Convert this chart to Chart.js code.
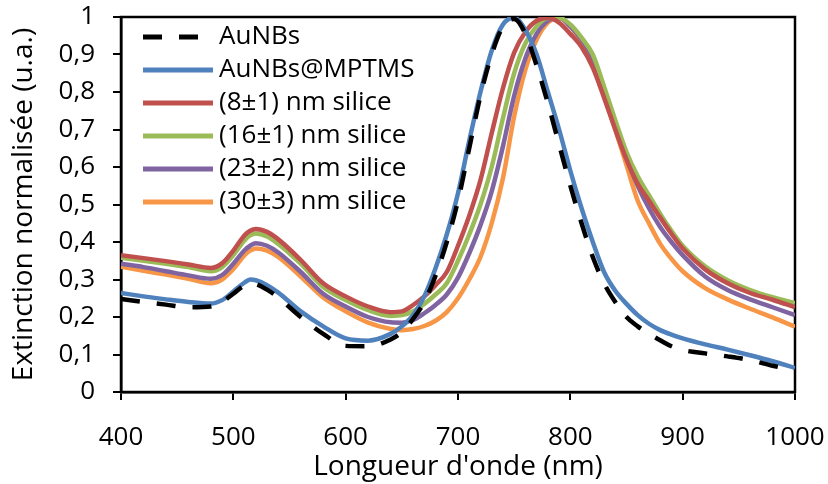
<!DOCTYPE html>
<html>
<head>
<meta charset="utf-8">
<script src="https://cdn.jsdelivr.net/npm/chart.js@4.4.0/dist/chart.umd.min.js"></script>
<style>
  html, body { margin: 0; padding: 0; background: #fff; }
  canvas { display: block; }
</style>
</head>
<body>
<canvas id="chart" width="828" height="484"></canvas>
<script>
// wavelengths (nm)
const wavelengths = [400, 420, 440, 460, 480, 490, 500, 510, 515, 520, 530, 540, 560, 580, 600, 620, 640, 650, 660, 670,
    680, 690, 700, 710, 720, 730, 740, 750, 760, 770, 780, 790, 800, 810, 820, 830, 840, 850, 860, 870,
    880, 890, 900, 920, 940, 960, 980, 1000];

const aunbs = [0.248, 0.240, 0.233, 0.226, 0.228, 0.240, 0.262, 0.285, 0.290, 0.288, 0.273, 0.252, 0.200, 0.155, 0.123, 0.122, 0.140, 0.160, 0.195, 0.240,
    0.31, 0.40, 0.51, 0.65, 0.79, 0.90, 0.975, 0.995, 0.955, 0.87, 0.77, 0.66, 0.55, 0.45, 0.36, 0.29, 0.24, 0.20, 0.175, 0.155,
    0.138, 0.122, 0.112, 0.103, 0.095, 0.085, 0.070, 0.058];

const mptms = [0.264, 0.255, 0.247, 0.240, 0.236, 0.245, 0.268, 0.292, 0.300, 0.298, 0.285, 0.265, 0.215, 0.175, 0.143, 0.137, 0.155, 0.175, 0.205, 0.255,
    0.33, 0.42, 0.53, 0.67, 0.80, 0.91, 0.98, 0.998, 0.965, 0.90, 0.80, 0.70, 0.59, 0.49, 0.40, 0.32, 0.27, 0.235, 0.205, 0.182,
    0.165, 0.153, 0.143, 0.127, 0.113, 0.098, 0.082, 0.064];

const silica8 = [0.365, 0.357, 0.349, 0.340, 0.331, 0.343, 0.377, 0.418, 0.430, 0.435, 0.427, 0.407, 0.352, 0.290, 0.255, 0.228, 0.213, 0.215, 0.232, 0.255,
    0.285, 0.32, 0.39, 0.47, 0.565, 0.69, 0.81, 0.905, 0.96, 0.99, 0.998, 0.985, 0.955, 0.92, 0.865, 0.785, 0.70, 0.62, 0.555, 0.51,
    0.465, 0.422, 0.383, 0.327, 0.290, 0.264, 0.246, 0.226];

const silica16 = [0.358, 0.350, 0.342, 0.333, 0.322, 0.333, 0.365, 0.405, 0.418, 0.423, 0.415, 0.395, 0.342, 0.280, 0.245, 0.218, 0.203, 0.205, 0.215, 0.235,
    0.26, 0.29, 0.35, 0.42, 0.50, 0.60, 0.73, 0.85, 0.93, 0.975, 0.997, 0.998, 0.98, 0.945, 0.90, 0.815, 0.725, 0.64, 0.575, 0.525,
    0.475, 0.43, 0.39, 0.335, 0.298, 0.272, 0.253, 0.237];

const silica23 = [0.342, 0.333, 0.322, 0.311, 0.302, 0.312, 0.342, 0.378, 0.390, 0.397, 0.390, 0.372, 0.320, 0.262, 0.228, 0.200, 0.186, 0.185, 0.192, 0.210,
    0.232, 0.26, 0.305, 0.37, 0.445, 0.535, 0.655, 0.79, 0.89, 0.955, 0.99, 0.998, 0.975, 0.94, 0.89, 0.80, 0.71, 0.625, 0.55, 0.49,
    0.44, 0.40, 0.365, 0.308, 0.272, 0.247, 0.226, 0.205];

const silica30 = [0.334, 0.323, 0.313, 0.302, 0.290, 0.300, 0.328, 0.365, 0.377, 0.383, 0.377, 0.360, 0.308, 0.252, 0.215, 0.185, 0.168, 0.165, 0.168, 0.176,
    0.19, 0.213, 0.25, 0.30, 0.36, 0.45, 0.57, 0.735, 0.86, 0.94, 0.985, 0.998, 0.975, 0.935, 0.885, 0.79, 0.70, 0.605, 0.51, 0.45,
    0.395, 0.355, 0.322, 0.277, 0.247, 0.222, 0.199, 0.174];

const seriesLabels = ['AuNBs', 'AuNBs@MPTMS', '(8±1) nm silice', '(16±1) nm silice', '(23±2) nm silice', '(30±3) nm silice'];
const seriesColors = ['#000000', '#4F81BD', '#C0504D', '#9BBB59', '#8064A2', '#F79646'];
const seriesValues = [aunbs, mptms, silica8, silica16, silica23, silica30];

const FONT = '"Open Sans", sans-serif';

let makeDataset = function (i) {
    return {
        label: seriesLabels[i],
        data: wavelengths.map((w, k) => ({ x: w, y: seriesValues[i][k] })),
        borderColor: seriesColors[i],
        backgroundColor: seriesColors[i],
        borderWidth: 4.5,
        borderDash: i === 0 ? [19, 17] : [],
        borderCapStyle: 'butt',
        cubicInterpolationMode: 'monotone',
        pointRadius: 0,
        fill: false
    };
}

// plot frame (top + right edges too)
const framePlugin = {
    id: 'frame',
    beforeDatasetsDraw(chart) {
        const a = chart.chartArea;
        const ctx = chart.ctx;
        ctx.save();
        ctx.strokeStyle = '#000';
        ctx.lineWidth = 2.5;
        ctx.strokeRect(a.left, a.top, a.right - a.left, a.bottom - a.top);
        ctx.restore();
    }
};

// legend drawn inside the plot, top-left
const insideLegend = {
    id: 'insideLegend',
    afterDraw(chart) {
        const ctx = chart.ctx;
        const x0 = 143, x1 = 213, tx = 219, y0 = 37, dy = 33;
        ctx.save();
        ctx.font = '26px ' + FONT;
        ctx.textBaseline = 'middle';
        ctx.textAlign = 'left';
        chart.data.datasets.forEach((ds, i) => {
            const y = y0 + i * dy;
            ctx.strokeStyle = ds.borderColor;
            ctx.lineWidth = 5;
            ctx.setLineDash(ds.borderDash);
            ctx.beginPath();
            ctx.moveTo(x0, y);
            ctx.lineTo(x1, y);
            ctx.stroke();
            ctx.setLineDash([]);
            ctx.fillStyle = '#000';
            ctx.fillText(ds.label, tx, y);
        });
        ctx.restore();
    }
};

let ctx = document.getElementById('chart').getContext('2d');
let myChart = new Chart(ctx, {
    type: 'line',
    data: {
        datasets: seriesLabels.map((l, i) => makeDataset(i))
    },
    options: {
        responsive: false,
        animation: false,
        layout: { padding: { top: 17, right: 33, bottom: 0, left: 0 } },
        plugins: {
            legend: { display: false },
            tooltip: { enabled: false }
        },
        scales: {
            x: {
                type: 'linear',
                min: 400,
                max: 1000,
                afterFit: (s) => { s.height = 92; s.paddingLeft = 0; s.paddingRight = 0; },
                ticks: {
                    stepSize: 100,
                    color: '#000',
                    padding: 22,
                    maxRotation: 0,
                    font: { family: FONT, size: 26 },
                    callback: (v) => String(v)
                },
                grid: { drawOnChartArea: false, color: '#000', lineWidth: 2, tickLength: 8 },
                border: { color: '#000', width: 2.5 },
                title: {
                    display: true,
                    text: "Longueur d'onde (nm)",
                    color: '#000',
                    font: { family: FONT, size: 28 },
                    padding: { top: 0, bottom: 0 }
                }
            },
            y: {
                min: 0,
                max: 1,
                afterFit: (s) => { s.width = 121; s.paddingTop = 0; s.paddingBottom = 0; },
                ticks: {
                    stepSize: 0.1,
                    color: '#000',
                    padding: 18,
                    font: { family: FONT, size: 26 },
                    callback: (v) => (Math.round(v * 10) / 10).toString().replace('.', ',')
                },
                grid: { drawOnChartArea: false, color: '#000', lineWidth: 2, tickLength: 8 },
                border: { color: '#000', width: 2.5 },
                title: {
                    display: true,
                    text: 'Extinction normalisée (u.a.)',
                    color: '#000',
                    font: { family: FONT, size: 28 },
                    padding: { top: 7, bottom: 0 }
                }
            }
        }
    },
    plugins: [framePlugin, insideLegend]
});
</script>
</body>
</html>
